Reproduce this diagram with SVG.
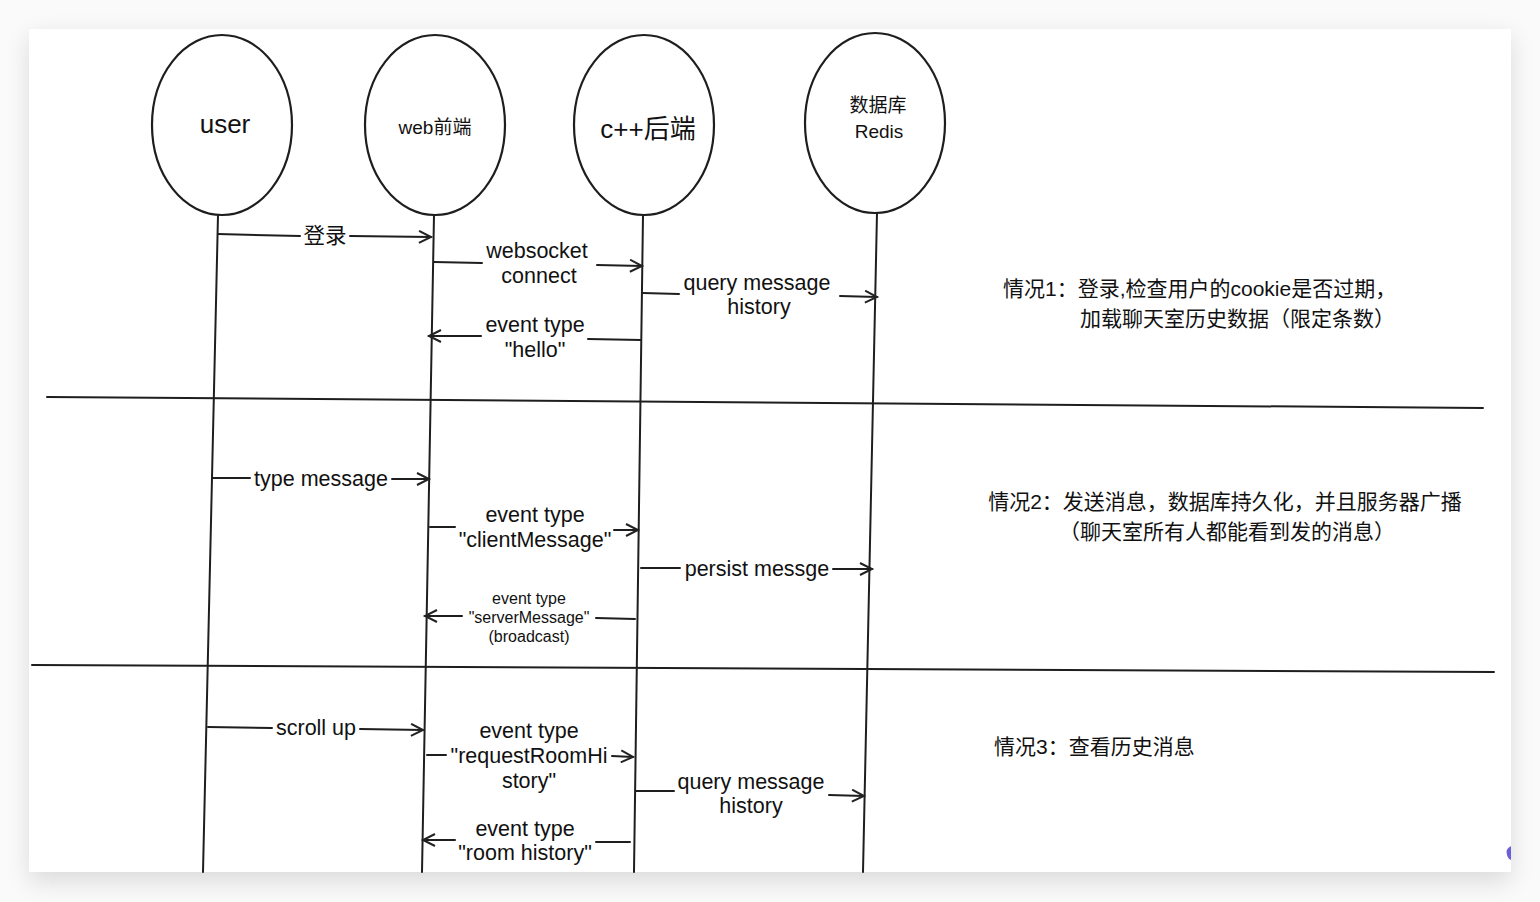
<svg xmlns="http://www.w3.org/2000/svg" width="1540" height="902" viewBox="0 0 1540 902">
<defs>
<filter id="sh" x="-5%" y="-5%" width="110%" height="115%">
<feGaussianBlur stdDeviation="12"/>
</filter>
<marker id="ah" markerWidth="16" markerHeight="14" refX="13" refY="7" orient="auto" markerUnits="userSpaceOnUse">
<path d="M1,1 L13,7 L1,13" fill="none" stroke="#222" stroke-width="2"/>
</marker>
<style>
.ln{fill:none;stroke:#1e1e1e;stroke-width:2;stroke-linecap:round}
.el{fill:#fff;stroke:#1e1e1e;stroke-width:2.2}
.lb{font-family:"Liberation Sans","Noto Sans CJK SC",sans-serif;font-size:21.5px;fill:#111;text-anchor:middle}
.sm{font-family:"Liberation Sans","Noto Sans CJK SC",sans-serif;font-size:16px;fill:#111;text-anchor:middle}
.nt{font-family:"Liberation Sans","Noto Sans CJK SC",sans-serif;fill:#111;text-anchor:middle}
.cs{font-family:"Liberation Sans","Noto Sans CJK SC",sans-serif;font-size:21px;fill:#111}
</style>
</defs>
<rect x="0" y="0" width="1540" height="902" fill="#fafafa"/>
<rect x="29" y="36" width="1482" height="846" fill="#000" opacity="0.12" filter="url(#sh)"/>
<rect x="29" y="29" width="1482" height="843" fill="#fff"/>
<path d="M1511,846 q-6,3 -4,9 q1,4 4,5 z" fill="#6b5fd6"/>

<g id="user">
<ellipse class="el" cx="222" cy="125" rx="70" ry="90"/>
<text class="nt" x="225" y="133" font-size="26">user</text>
</g>
<g id="web">
<ellipse class="el" cx="435" cy="125" rx="70" ry="90"/>
<text class="nt" x="435" y="134" font-size="19">web前端</text>
</g>
<g id="backend">
<ellipse class="el" cx="644" cy="125" rx="70" ry="90"/>
<text class="nt" x="648" y="138" font-size="26">c++后端</text>
</g>
<g id="redis">
<ellipse class="el" cx="875" cy="123" rx="70" ry="90"/>
<text class="nt" x="878" y="112" font-size="19">数据库</text>
<text class="nt" x="879" y="138" font-size="19">Redis</text>
</g>

<g id="lifelines">
<line class="ln" x1="218" y1="215" x2="203" y2="872"/>
<line class="ln" x1="434" y1="215" x2="422" y2="872"/>
<line class="ln" x1="643" y1="215" x2="634" y2="872"/>
<line class="ln" x1="877" y1="213" x2="863" y2="872"/>
</g>

<g id="separators">
<line class="ln" x1="47" y1="397" x2="1483" y2="408"/>
<line class="ln" x1="32" y1="665" x2="1494" y2="672"/>
</g>

<g id="connectors">
<line class="ln" x1="218" y1="234" x2="300" y2="236"/>
<line class="ln" x1="350" y1="236" x2="431" y2="237" marker-end="url(#ah)"/>
<line class="ln" x1="434" y1="262" x2="482" y2="263"/>
<line class="ln" x1="597" y1="265" x2="642" y2="266" marker-end="url(#ah)"/>
<line class="ln" x1="643" y1="293" x2="679" y2="294"/>
<line class="ln" x1="840" y1="296" x2="877" y2="297" marker-end="url(#ah)"/>
<line class="ln" x1="641" y1="340" x2="588" y2="339"/>
<line class="ln" x1="481" y1="336" x2="429" y2="336" marker-end="url(#ah)"/>
<line class="ln" x1="212" y1="478" x2="250" y2="478"/>
<line class="ln" x1="392" y1="479" x2="429" y2="479" marker-end="url(#ah)"/>
<line class="ln" x1="430" y1="527" x2="455" y2="527"/>
<line class="ln" x1="614" y1="530" x2="638" y2="530" marker-end="url(#ah)"/>
<line class="ln" x1="641" y1="568" x2="680" y2="568"/>
<line class="ln" x1="833" y1="569" x2="872" y2="569" marker-end="url(#ah)"/>
<line class="ln" x1="635" y1="619" x2="596" y2="618"/>
<line class="ln" x1="462" y1="616" x2="425" y2="616" marker-end="url(#ah)"/>
<line class="ln" x1="208" y1="727" x2="272" y2="728"/>
<line class="ln" x1="360" y1="729" x2="423" y2="730" marker-end="url(#ah)"/>
<line class="ln" x1="427" y1="755" x2="446" y2="755"/>
<line class="ln" x1="612" y1="756" x2="633" y2="757" marker-end="url(#ah)"/>
<line class="ln" x1="636" y1="791" x2="674" y2="791"/>
<line class="ln" x1="829" y1="795" x2="864" y2="796" marker-end="url(#ah)"/>
<line class="ln" x1="630" y1="842" x2="596" y2="842"/>
<line class="ln" x1="455" y1="840" x2="423" y2="840" marker-end="url(#ah)"/>
</g>

<g id="labels">
<text class="lb" x="325" y="243">登录</text>
<text class="lb" x="537" y="258">websocket</text>
<text class="lb" x="539" y="283">connect</text>
<text class="lb" x="757" y="290">query message</text>
<text class="lb" x="759" y="314">history</text>
<text class="lb" x="535" y="332">event type</text>
<text class="lb" x="535" y="357">"hello"</text>
<text class="lb" x="321" y="486">type message</text>
<text class="lb" x="535" y="522">event type</text>
<text class="lb" x="535" y="547">"clientMessage"</text>
<text class="lb" x="757" y="576">persist messge</text>
<text class="sm" x="529" y="604">event type</text>
<text class="sm" x="529" y="623">"serverMessage"</text>
<text class="sm" x="529" y="642">(broadcast)</text>
<text class="lb" x="316" y="735">scroll up</text>
<text class="lb" x="529" y="738">event type</text>
<text class="lb" x="529" y="763">"requestRoomHi</text>
<text class="lb" x="529" y="788">story"</text>
<text class="lb" x="751" y="789">query message</text>
<text class="lb" x="751" y="813">history</text>
<text class="lb" x="525" y="836">event type</text>
<text class="lb" x="525" y="860">"room history"</text>
</g>

<g id="notes">
<text class="cs" x="1003" y="296">情况1：登录,检查用户的cookie是否过期，</text>
<text class="cs" x="1080" y="326">加载聊天室历史数据（限定条数）</text>
<text class="cs" x="1225" y="509" text-anchor="middle">情况2：发送消息，数据库持久化，并且服务器广播</text>
<text class="cs" x="1227" y="539" text-anchor="middle">（聊天室所有人都能看到发的消息）</text>
<text class="cs" x="994" y="754">情况3：查看历史消息</text>
</g>
</svg>
